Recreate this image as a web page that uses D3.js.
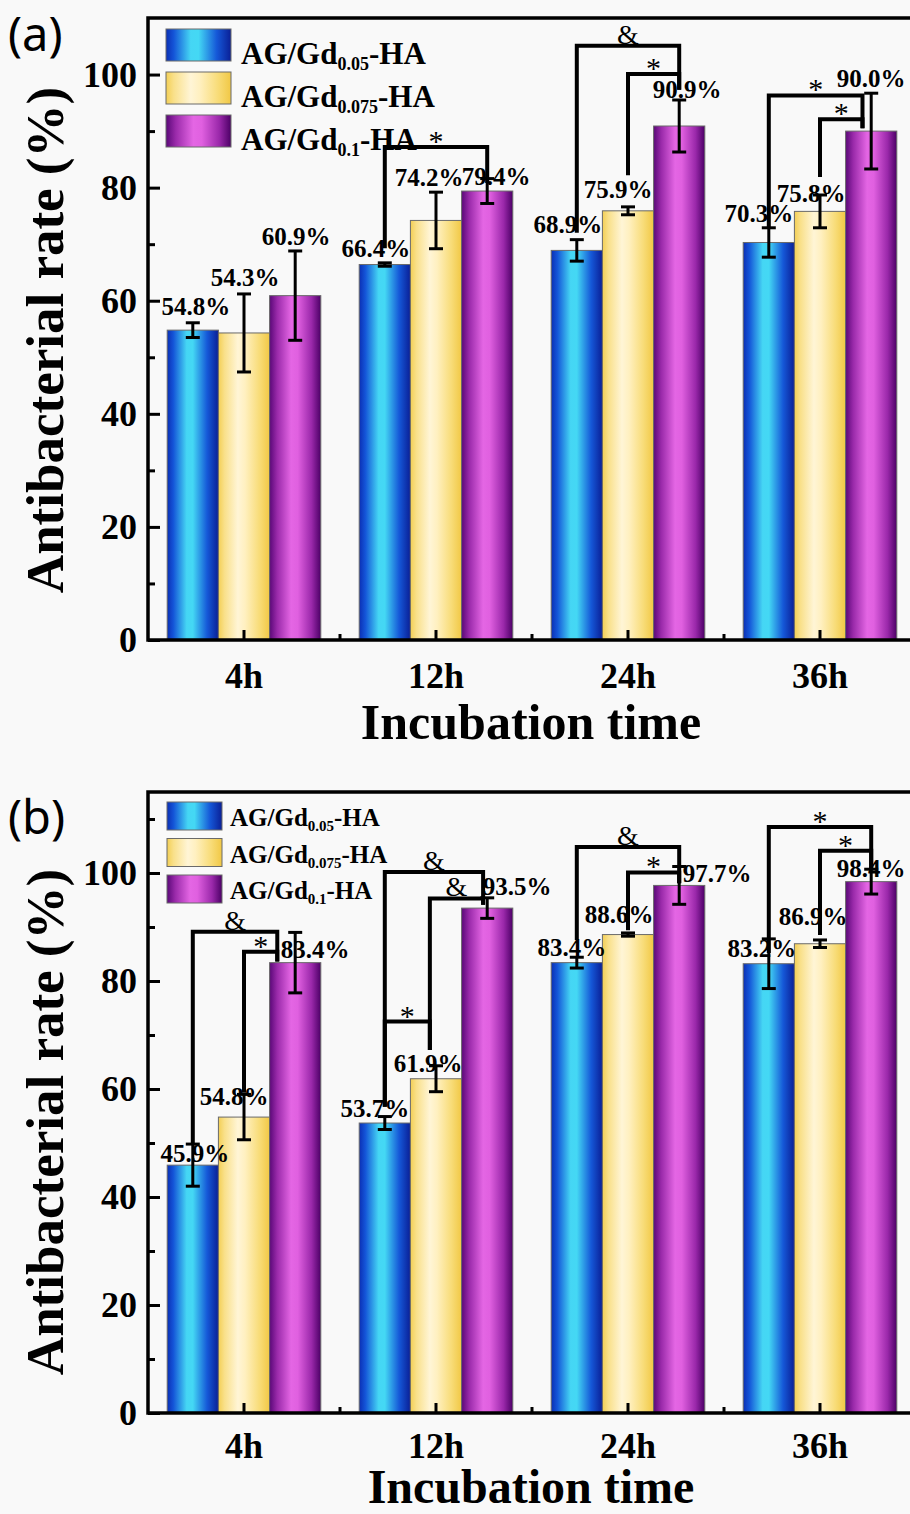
<!DOCTYPE html>
<html><head><meta charset="utf-8">
<script src="https://cdn.jsdelivr.net/npm/d3@7"></script>
<style>body{margin:0;background:#f9f9f9}</style>
</head><body><svg id="c" width="910" height="1514"></svg>
<script>
// ---------- data ----------
const categories = ["4h", "12h", "24h", "36h"];
const seriesBase = ["AG/Gd", "AG/Gd", "AG/Gd"];
const seriesSub = ["0.05", "0.075", "0.1"];
const seriesSuffix = ["-HA", "-HA", "-HA"];
const majorTicks = [0, 20, 40, 60, 80, 100];
const minorTicksA = [10, 30, 50, 70, 90];
const minorTicksB = [10, 30, 50, 70, 90, 110];

// panel (a): rows = series, cols = categories
const valuesA = [[54.8, 66.4, 68.9, 70.3], [54.3, 74.2, 75.9, 75.8], [60.9, 79.4, 90.9, 90.0]];
const errorsA = [[1.3, 0.3, 1.9, 2.6], [6.9, 5.0, 0.7, 2.9], [7.9, 2.2, 4.6, 6.7]];
// panel (b)
const valuesB = [[45.9, 53.7, 83.4, 83.2], [54.8, 61.9, 88.6, 86.9], [83.4, 93.5, 97.7, 98.4]];
const errorsB = [[3.9, 1.2, 1.0, 4.6], [4.2, 2.4, 0.3, 0.7], [5.6, 1.9, 3.5, 2.3]];

// significance brackets (values in % units)
const bracketsA = [
  {cat: "12h", from: 0, to: 2, top: 87.2, leftEnd: 69.3, rightEnd: 80.8, sym: "*"},
  {cat: "24h", from: 0, to: 2, top: 105.1, leftEnd: 72.0, rightEnd: 97.3, sym: "&"},
  {cat: "24h", from: 1, to: 2, top: 100.1, leftEnd: 82.2, rightEnd: 97.3, sym: "*"},
  {cat: "36h", from: 0, to: 2, top: 96.3, leftEnd: 72.9, rightEnd: 90.5, sym: "*", rs: -0.17},
  {cat: "36h", from: 1, to: 2, top: 92.1, leftEnd: 81.9, rightEnd: 90.5, sym: "*", rs: -0.17}
];
const bracketsB = [
  {cat: "4h", from: 0, to: 2, top: 89.1, leftEnd: 50.0, rightEnd: 83.6, sym: "&", rs: -0.35},
  {cat: "4h", from: 1, to: 2, top: 85.4, leftEnd: 59.3, rightEnd: 83.6, sym: "*", rs: -0.35},
  {cat: "12h", from: 0, to: 2, top: 100.2, leftEnd: 56.7, rightEnd: 94.1, sym: "&", rs: -0.08},
  {cat: "12h", from: 1, to: 2, top: 95.3, leftEnd: 67.2, rightEnd: 94.1, sym: "&", ls: -0.12, rs: -0.08},
  {cat: "12h", from: 0, to: 1, top: 72.5, leftEnd: 56.7, rightEnd: 67.2, sym: "*", rs: -0.12},
  {cat: "24h", from: 0, to: 2, top: 104.8, leftEnd: 87.6, rightEnd: 98.1, sym: "&"},
  {cat: "24h", from: 1, to: 2, top: 100.1, leftEnd: 89.4, rightEnd: 98.1, sym: "*"},
  {cat: "36h", from: 0, to: 2, top: 108.5, leftEnd: 85.2, rightEnd: 100.5, sym: "*"},
  {cat: "36h", from: 1, to: 2, top: 104.1, leftEnd: 88.5, rightEnd: 100.5, sym: "*"}
];

// value-label nudges [dx, dy] in px (layout only)
const nudgeA = [[[3,-2],[-9,0],[-9,-1],[-10,0]], [[1,-2],[-7,0],[-10,-3],[-9,13]], [[1,0],[9,12],[8,4],[0,0]]];
const nudgeB = [[[2,24],[-10,6],[-5,5],[-7,24]], [[-10,17],[-8,12],[-9,-4],[-7,-9]], [[20,32],[30,3],[38,21],[0,14]]];

// ---------- drawing ----------
const svg = d3.select("#c");
const SERIF = "'Liberation Serif','Times New Roman',serif";
const X0 = 148, X1 = 916;
const x = d3.scaleBand().domain(categories).range([X0, X1]).paddingInner(0.2).paddingOuter(0.1);
const xs = d3.scaleBand().domain([0, 1, 2]).range([0, x.bandwidth()]);

const defs = svg.append("defs");
const gradStops = [
  [[0, "#0b2fb4"], [0.12, "#1455d8"], [0.38, "#45d6f4"], [0.5, "#44d8f4"], [0.78, "#1558d8"], [1, "#0a1f96"]],
  [[0, "#f3cf55"], [0.12, "#f9e08a"], [0.38, "#fff5d6"], [0.52, "#fff0c0"], [0.8, "#f8dc78"], [1, "#f1c845"]],
  [[0, "#5a0878"], [0.15, "#9a2aaa"], [0.42, "#e466e4"], [0.55, "#e060e0"], [0.82, "#9a28aa"], [1, "#4c0066"]]
];
gradStops.forEach((st, i) => {
  const g = defs.append("linearGradient").attr("id", "g" + i)
    .attr("x1", 0).attr("x2", 1).attr("y1", 0).attr("y2", 0);
  st.forEach(s => g.append("stop").attr("offset", s[0]).attr("stop-color", s[1]));
});

const panels = [
  {label: "(a)", labelY: 51, top: 18, bottom: 640, ymax: 110, values: valuesA, errors: errorsA,
   minor: minorTicksA, brackets: bracketsA, nudge: nudgeA, titleOff: 99, titleFs: 50, tickOff: 48,
   leg: {x: 166, y: 29, w: 65, h: 32, gap: 43, tx: 241, fs: 31, sfs: 18, base: 35, sdy: 6}, ytc: 340},
  {label: "(b)", labelY: 834, top: 792, bottom: 1413, ymax: 115, values: valuesB, errors: errorsB,
   minor: minorTicksB, brackets: bracketsB, nudge: nudgeB, titleOff: 90, titleFs: 48, tickOff: 45,
   leg: {x: 167, y: 802, w: 55, h: 28, gap: 36.5, tx: 230, fs: 25, sfs: 15, base: 24, sdy: 5}, ytc: 1122}
];

panels.forEach(p => {
  const y = d3.scaleLinear().domain([0, p.ymax]).range([p.bottom, p.top]);
  const g = svg.append("g");
  const cx = (c, s, shift = 0) => x(c) + xs(s) + xs.bandwidth() * (0.5 + shift);

  // bars
  p.values.forEach((row, s) => {
    g.append("g").selectAll("rect").data(row).join("rect")
      .attr("x", (d, i) => x(categories[i]) + xs(s))
      .attr("width", xs.bandwidth())
      .attr("y", d => y(d))
      .attr("height", d => y(0) - y(d))
      .attr("fill", `url(#g${s})`)
      .attr("stroke", "#6a6a6a").attr("stroke-width", 1);
  });

  // error bars
  p.values.forEach((row, s) => {
    row.forEach((v, i) => {
      const e = p.errors[s][i];
      const xc = cx(categories[i], s);
      const eg = g.append("g").attr("stroke", "#000").attr("stroke-width", 3);
      eg.append("line").attr("x1", xc).attr("x2", xc).attr("y1", y(v - e)).attr("y2", y(v + e));
      eg.append("line").attr("x1", xc - 7).attr("x2", xc + 7).attr("y1", y(v - e)).attr("y2", y(v - e));
      eg.append("line").attr("x1", xc - 7).attr("x2", xc + 7).attr("y1", y(v + e)).attr("y2", y(v + e));
    });
  });

  // value labels
  p.values.forEach((row, s) => {
    row.forEach((v, i) => {
      const e = p.errors[s][i];
      const n = p.nudge[s][i];
      g.append("text")
        .attr("x", cx(categories[i], s) + n[0])
        .attr("y", y(v + e) - 6 + n[1])
        .attr("text-anchor", "middle")
        .attr("font-family", SERIF).attr("font-weight", "bold").attr("font-size", 25)
        .text(d3.format(".1f")(v) + "%");
    });
  });

  // brackets
  p.brackets.forEach(b => {
    const xl = cx(b.cat, b.from, b.ls || 0), xr = cx(b.cat, b.to, b.rs || 0);
    g.append("path")
      .attr("d", `M${xl},${y(b.leftEnd)}V${y(b.top)}H${xr}V${y(b.rightEnd)}`)
      .attr("fill", "none").attr("stroke", "#000").attr("stroke-width", 4);
    g.append("text")
      .attr("x", (xl + xr) / 2)
      .attr("y", b.sym === "*" ? y(b.top) + 4 : y(b.top) - 2)
      .attr("text-anchor", "middle")
      .attr("font-family", SERIF).attr("font-size", b.sym === "*" ? 30 : 28)
      .text(b.sym);
  });

  // frame
  g.append("rect").attr("x", X0).attr("y", p.top).attr("width", X1 - X0).attr("height", p.bottom - p.top)
    .attr("fill", "none").attr("stroke", "#000").attr("stroke-width", 3.5);

  // y axis
  const ya = g.append("g").attr("transform", `translate(${X0},0)`)
    .call(d3.axisLeft(y).tickValues(majorTicks).tickSize(-12).tickPadding(11).tickFormat(d3.format("d")));
  ya.select(".domain").remove();
  ya.selectAll("line").attr("stroke-width", 3);
  ya.selectAll("text").attr("font-family", SERIF).attr("font-weight", "bold").attr("font-size", 36).attr("fill", "#000");
  const ym = g.append("g").attr("transform", `translate(${X0},0)`)
    .call(d3.axisLeft(y).tickValues(p.minor).tickSize(-7).tickFormat(""));
  ym.select(".domain").remove();
  ym.selectAll("line").attr("stroke-width", 3);

  // x axis
  const xa = g.append("g").attr("transform", `translate(0,${p.bottom})`)
    .call(d3.axisBottom(x).tickSize(-10).tickPadding(0));
  xa.select(".domain").remove();
  xa.selectAll("line").attr("stroke-width", 3);
  xa.selectAll("text").attr("y", p.tickOff).attr("dy", null)
    .attr("font-family", SERIF).attr("font-weight", "bold").attr("font-size", 36).attr("fill", "#000");
  categories.slice(1).forEach(c => {
    const xb = x(c) - x.step() * x.paddingInner() / 2;
    g.append("line").attr("x1", xb).attr("x2", xb).attr("y1", p.bottom).attr("y2", p.bottom - 6)
      .attr("stroke", "#000").attr("stroke-width", 3);
  });

  // axis titles
  g.append("text").attr("x", (X0 + X1) / 2 - 1).attr("y", p.bottom + p.titleOff)
    .attr("text-anchor", "middle").attr("font-family", SERIF).attr("font-weight", "bold").attr("font-size", p.titleFs)
    .text("Incubation time");
  g.append("text").attr("transform", `translate(63,${p.ytc}) rotate(-90)`)
    .attr("text-anchor", "middle").attr("font-family", SERIF).attr("font-weight", "bold").attr("font-size", 53)
    .text("Antibacterial rate (%)");

  // panel label
  g.append("text").attr("x", 8).attr("y", p.labelY)
    .attr("font-family", "'Noto Sans','Open Sans',sans-serif").attr("font-size", 47).text(p.label);

  // legend
  const L = p.leg;
  seriesBase.forEach((nm, s) => {
    const yy = L.y + s * L.gap;
    g.append("rect").attr("x", L.x).attr("y", yy).attr("width", L.w).attr("height", L.h)
      .attr("fill", `url(#g${s})`).attr("stroke", "#6a6a6a").attr("stroke-width", 1);
    const t = g.append("text").attr("x", L.tx).attr("y", yy + L.base)
      .attr("font-family", SERIF).attr("font-weight", "bold").attr("font-size", L.fs);
    t.append("tspan").text(nm);
    t.append("tspan").attr("font-size", L.sfs).attr("dy", L.sdy).text(seriesSub[s]);
    t.append("tspan").attr("dy", -L.sdy).text(seriesSuffix[s]);
  });
});
</script>
</body></html>
